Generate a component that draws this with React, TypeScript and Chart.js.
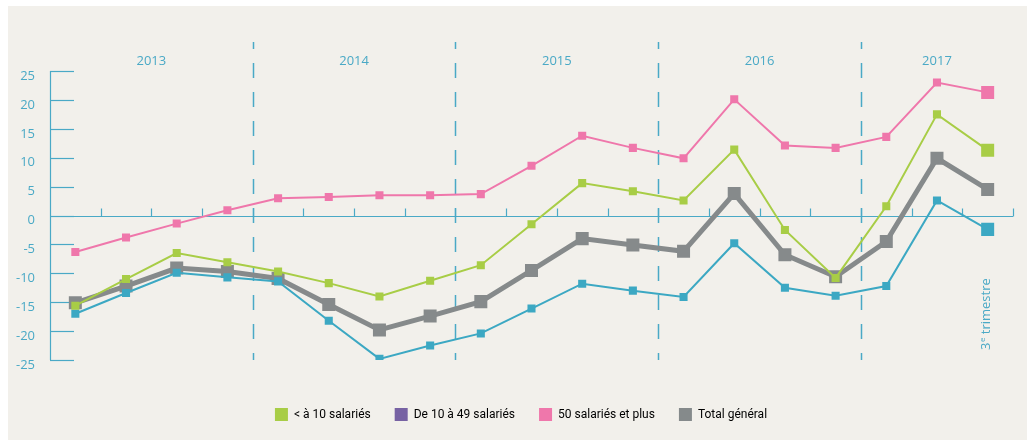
import React, { useEffect, useRef } from "react";
import { Chart, registerables } from "chart.js";

Chart.register(...registerables);

const years = ["2013", "2014", "2015", "2016", "2017"];
const quartersPerYear = [4, 4, 4, 4, 3];
const categories = years.flatMap((y, i) =>
  Array.from({ length: quartersPerYear[i] }, (_, q) => `T${q + 1} ${y}`)
);

const seriesNames = ["< à 10 salariés", "De 10 à 49 salariés", "50 salariés et plus", "Total général"];
const lessThan10 = [-15.6, -11.0, -6.5, -8.1, -9.7, -11.7, -14.0, -11.3, -8.6, -1.5, 5.6, 4.2, 2.6, 11.4, -2.5, -10.8, 1.6, 17.5, 11.3];
const from10to49 = [-17.0, -13.4, -9.9, -10.7, -11.4, -18.2, -24.8, -22.5, -20.4, -16.1, -11.8, -13.0, -14.1, -4.8, -12.5, -13.9, -12.2, 2.6, -2.4];
const fiftyPlus = [-6.3, -3.8, -1.4, 0.9, 3.0, 3.2, 3.5, 3.5, 3.7, 8.6, 13.8, 11.7, 9.9, 20.1, 12.1, 11.7, 13.6, 23.0, 21.3];
const totalGeneral = [-15.1, -12.2, -9.1, -9.7, -10.9, -15.4, -19.8, -17.4, -14.9, -9.5, -4.0, -5.1, -6.2, 3.8, -6.8, -10.6, -4.5, 9.9, 4.5];

const yTicks = [-25, -20, -15, -10, -5, 0, 5, 10, 15, 20, 25];
const noteText = "trimestre";

const lineColors = ["#a8cd46", "#3ca8c3", "#ef77ab", "#868a8b"];
const legendColors = ["#a8cd46", "#7762a3", "#ef77ab", "#858a8b"];
const AXIS = "#4aa9c6";
const BG = "#f2f0eb";

const smallR = 5.7;
const bigR = 9.2;
const radii = (last: number, other: number) => categories.map((_, i) => (i === categories.length - 1 ? last : other));

const decorPlugin = {
  id: "decor",
  beforeDatasetsDraw(chart: any) {
    const { ctx, chartArea } = chart;
    const x = chart.scales.x;
    const y = chart.scales.y;
    const left = chartArea.left;
    const right = chartArea.right;
    const y0 = y.getPixelForValue(0);
    const yTop = y.getPixelForValue(25);
    const yBot = y.getPixelForValue(-25);
    ctx.save();
    ctx.strokeStyle = AXIS;
    ctx.lineWidth = 1.2;
    // y axis line
    ctx.beginPath();
    ctx.moveTo(left + 0.5, yTop);
    ctx.lineTo(left + 0.5, yBot);
    ctx.stroke();
    // y ticks (inward) and labels
    ctx.fillStyle = AXIS;
    ctx.font = "13px 'Open Sans'";
    ctx.textAlign = "right";
    ctx.textBaseline = "middle";
    yTicks.forEach((v) => {
      const py = Math.round(y.getPixelForValue(v)) + 0.5;
      ctx.beginPath();
      ctx.moveTo(left, py);
      ctx.lineTo(left + 24, py);
      ctx.stroke();
      ctx.fillText(String(v), left - 15, y.getPixelForValue(v) + 5);
    });
    // x axis line
    const pz = Math.round(y0) + 0.5;
    ctx.beginPath();
    ctx.moveTo(left, pz);
    ctx.lineTo(right, pz);
    ctx.stroke();
    // x ticks at category boundaries
    const n = categories.length;
    const bounds: number[] = [];
    for (let i = 0; i < n - 1; i++) {
      bounds.push((x.getPixelForValue(i) + x.getPixelForValue(i + 1)) / 2);
    }
    bounds.push(right);
    bounds.forEach((bx) => {
      const px = Math.round(bx) + 0.5;
      ctx.beginPath();
      ctx.moveTo(px, pz);
      ctx.lineTo(px, pz - 8);
      ctx.stroke();
    });
    // dashed year separators and year labels
    let start = 0;
    const yearBounds: number[] = [left];
    quartersPerYear.forEach((q, i) => {
      start += q;
      if (i < quartersPerYear.length - 1) {
        yearBounds.push((x.getPixelForValue(start - 1) + x.getPixelForValue(start)) / 2);
      }
    });
    yearBounds.push(right);
    ctx.setLineDash([15, 14]);
    ctx.lineDashOffset = 8;
    ctx.lineWidth = 1.5;
    yearBounds.slice(1, -1).forEach((bx) => {
      const px = Math.round(bx) + 0.5;
      ctx.beginPath();
      ctx.moveTo(px, yTop - 29);
      ctx.lineTo(px, yBot);
      ctx.stroke();
    });
    ctx.setLineDash([]);
    ctx.textAlign = "center";
    ctx.textBaseline = "middle";
    years.forEach((yr, i) => {
      ctx.fillText(yr, (yearBounds[i] + yearBounds[i + 1]) / 2, yTop - 10);
    });
    // "3e trimestre" rotated
    const lx = x.getPixelForValue(n - 1) - 1;
    const ly = chartArea.bottom - 10;
    ctx.translate(lx, ly);
    ctx.rotate(-Math.PI / 2);
    ctx.textAlign = "left";
    ctx.textBaseline = "middle";
    ctx.font = "13px 'Open Sans'";
    ctx.fillText("3", 0, 0);
    const w3 = ctx.measureText("3").width;
    ctx.font = "8px 'Open Sans'";
    ctx.fillText("e", w3 + 0.5, -4);
    const we = ctx.measureText("e").width;
    ctx.font = "13px 'Open Sans'";
    ctx.fillText(" " + noteText, w3 + we + 0.5, 0);
    ctx.restore();
  },
};

export default function App() {
  const ref = useRef<HTMLCanvasElement | null>(null);
  useEffect(() => {
    if (!ref.current) return;
    const legendPad = 24;
    const mk = (i: number, data: number[], width: number, r: number[]) => ({
      label: seriesNames[i],
      data,
      borderColor: lineColors[i],
      backgroundColor: lineColors[i],
      borderWidth: width,
      pointStyle: "rect",
      pointRadius: r,
      pointBorderWidth: 0,
      tension: 0,
    });
    const chart = new Chart(ref.current, {
      type: "line",
      data: {
        labels: categories,
        datasets: [
          mk(0, lessThan10, 2, radii(bigR, smallR)),
          mk(1, from10to49, 2, radii(bigR, smallR)),
          mk(2, fiftyPlus, 2, radii(bigR, smallR)),
          mk(3, totalGeneral, 5, radii(bigR, bigR)),
        ] as any,
      },
      options: {
        animation: false,
        responsive: false,
        devicePixelRatio: 1,
        layout: { padding: { left: 21, right: 14, top: 65, bottom: 9 } },
        scales: {
          x: {
            type: "category",
            offset: true,
            grid: { display: false, drawTicks: false },
            border: { display: false },
            ticks: { display: false },
            afterFit(scale: any) {
              scale.height = 48 - legendPad;
            },
          },
          y: {
            min: -25,
            max: 25,
            grid: { display: false, drawTicks: false },
            border: { display: false },
            ticks: { display: false, stepSize: 5 },
            afterFit(scale: any) {
              scale.width = 21;
            },
          },
        },
        plugins: {
          tooltip: { enabled: false },
          legend: {
            position: "bottom",
            labels: {
              boxWidth: 13,
              boxHeight: 13,
              padding: legendPad,
              color: "#4d4d4d",
              font: { family: "Roboto", size: 12 },
              generateLabels: () =>
                seriesNames.map((name, i) => ({
                  text: name,
                  fillStyle: legendColors[i],
                  strokeStyle: legendColors[i],
                  lineWidth: 0,
                  hidden: false,
                  datasetIndex: i,
                })),
            },
          },
        },
      },
      plugins: [decorPlugin],
    });
    return () => chart.destroy();
  }, []);
  return (
    <div style={{ position: "fixed", left: 8, top: 6, width: 1019, height: 434, background: BG }}>
      <canvas ref={ref} width={1019} height={434} style={{ display: "block" }} />
    </div>
  );
}
